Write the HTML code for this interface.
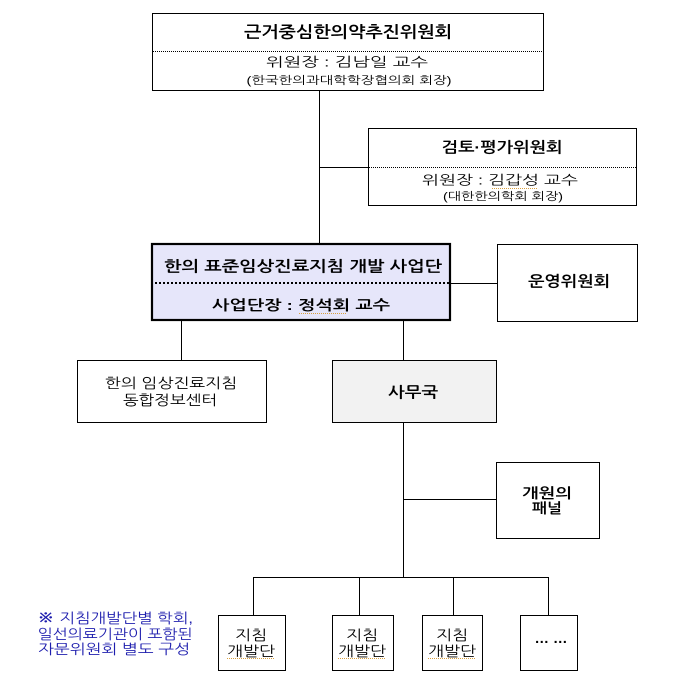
<!DOCTYPE html>
<html><head><meta charset="utf-8"><style>
html,body{margin:0;padding:0;background:#fff;}
svg{display:block;}
text{font-family:"Liberation Sans","NanumGothic","Noto Sans CJK KR",sans-serif;fill:#000;}
.b{font-weight:bold;}
</style></head><body>
<svg width="682" height="697" viewBox="0 0 682 697" xmlns="http://www.w3.org/2000/svg">
<g fill="none" stroke="#000" stroke-width="1">
  <line x1="319.5" y1="90" x2="319.5" y2="244"/>
  <line x1="319.5" y1="167.5" x2="368" y2="167.5"/>
  <line x1="451" y1="283.5" x2="497" y2="283.5"/>
  <line x1="181.5" y1="321" x2="181.5" y2="360"/>
  <line x1="403.5" y1="321" x2="403.5" y2="360"/>
  <line x1="403.5" y1="422" x2="403.5" y2="577"/>
  <line x1="403.5" y1="499.5" x2="496" y2="499.5"/>
  <line x1="253.5" y1="577.5" x2="548.5" y2="577.5"/>
  <line x1="253.5" y1="577" x2="253.5" y2="615"/>
  <line x1="359.5" y1="577" x2="359.5" y2="615"/>
  <line x1="453.5" y1="577" x2="453.5" y2="615"/>
  <line x1="548.5" y1="577" x2="548.5" y2="615"/>
  <rect x="152.5" y="13.5" width="391" height="77" fill="#fff"/>
  <rect x="368.5" y="128.5" width="268" height="77" fill="#fff"/>
  <rect x="152" y="244" width="298" height="76" fill="#e6e6fa" stroke-width="2.2"/>
  <rect x="497.5" y="244.5" width="140" height="77" fill="#fff"/>
  <rect x="77.5" y="360.5" width="189" height="62" fill="#fff"/>
  <rect x="332.5" y="360.5" width="164" height="62" fill="#f2f2f2"/>
  <rect x="496.5" y="462.5" width="103" height="76" fill="#fff"/>
  <rect x="218.5" y="615.5" width="67" height="55" fill="#fff"/>
  <rect x="332.5" y="615.5" width="61" height="55" fill="#fff"/>
  <rect x="422.5" y="615.5" width="60" height="55" fill="#fff"/>
  <rect x="520.5" y="615.5" width="57" height="55" fill="#fff"/>
  <line x1="153" y1="51.5" x2="543" y2="51.5" stroke-dasharray="1 1"/>
  <line x1="369" y1="167.5" x2="636" y2="167.5" stroke-dasharray="1 1"/>
  <line x1="155" y1="283" x2="449" y2="283" stroke-width="2" stroke-dasharray="2 2"/>
  <g stroke="#d9a040" stroke-dasharray="1 1">
    <line x1="492" y1="188.5" x2="537" y2="188.5"/>
    <line x1="299" y1="313.5" x2="347" y2="313.5"/>
    <line x1="227" y1="658.5" x2="275" y2="658.5"/>
    <line x1="338" y1="658.5" x2="386" y2="658.5"/>
    <line x1="428" y1="658.5" x2="476" y2="658.5"/>
  </g>
</g>
<g dominant-baseline="central" text-anchor="middle">
  <text class="b" x="348" y="33" font-size="16" textLength="208" lengthAdjust="spacingAndGlyphs">근거중심한의약추진위원회</text>
  <text x="347" y="62" font-size="13" textLength="162" lengthAdjust="spacingAndGlyphs">위원장 : 김남일  교수</text>
  <text x="349" y="81" font-size="11" textLength="205" lengthAdjust="spacingAndGlyphs">(한국한의과대학학장협의회  회장)</text>

  <text class="b" x="502" y="148" font-size="15" textLength="121" lengthAdjust="spacingAndGlyphs">검토·평가위원회</text>
  <text x="500" y="180" font-size="13" textLength="156" lengthAdjust="spacingAndGlyphs">위원장 : 김갑성  교수</text>
  <text x="503" y="197" font-size="11" textLength="120" lengthAdjust="spacingAndGlyphs">(대한한의학회  회장)</text>

  <text class="b" x="303" y="267" font-size="15" textLength="278" lengthAdjust="spacingAndGlyphs">한의  표준임상진료지침  개발  사업단</text>
  <text class="b" x="301" y="305" font-size="14" textLength="178" lengthAdjust="spacingAndGlyphs">사업단장 : 정석회  교수</text>

  <text class="b" x="569" y="282" font-size="15" textLength="82" lengthAdjust="spacingAndGlyphs">운영위원회</text>

  <text x="171" y="383" font-size="14" textLength="132" lengthAdjust="spacingAndGlyphs">한의  임상진료지침</text>
  <text x="170" y="400" font-size="14" textLength="94" lengthAdjust="spacingAndGlyphs">동합정보센터</text>

  <text class="b" x="413" y="393" font-size="15" textLength="50" lengthAdjust="spacingAndGlyphs">사무국</text>

  <text class="b" x="547" y="493" font-size="14" textLength="50" lengthAdjust="spacingAndGlyphs">개원의</text>
  <text class="b" x="547" y="508" font-size="14" textLength="30" lengthAdjust="spacingAndGlyphs">패널</text>

  <text x="251" y="635" font-size="14" textLength="32" lengthAdjust="spacingAndGlyphs">지침</text>
  <text x="251" y="651" font-size="14" textLength="48" lengthAdjust="spacingAndGlyphs">개발단</text>
  <text x="362" y="635" font-size="14" textLength="32" lengthAdjust="spacingAndGlyphs">지침</text>
  <text x="362" y="651" font-size="14" textLength="48" lengthAdjust="spacingAndGlyphs">개발단</text>
  <text x="452" y="635" font-size="14" textLength="32" lengthAdjust="spacingAndGlyphs">지침</text>
  <text x="452" y="651" font-size="14" textLength="48" lengthAdjust="spacingAndGlyphs">개발단</text>
  <text class="b" x="551" y="638" font-size="14" textLength="33" lengthAdjust="spacingAndGlyphs">…  …</text>

  <text x="115" y="618" font-size="14" textLength="156" lengthAdjust="spacingAndGlyphs" style="fill:#1e1eae"><tspan font-size="16" font-weight="bold">※</tspan> 지침개발단별  학회,</text>
  <text x="115" y="634" font-size="14" textLength="155" lengthAdjust="spacingAndGlyphs" style="fill:#1e1eae">일선의료기관이  포함된</text>
  <text x="114" y="649" font-size="14" textLength="152" lengthAdjust="spacingAndGlyphs" style="fill:#1e1eae">자문위원회  별도  구성</text>
</g>
</svg>
</body></html>
